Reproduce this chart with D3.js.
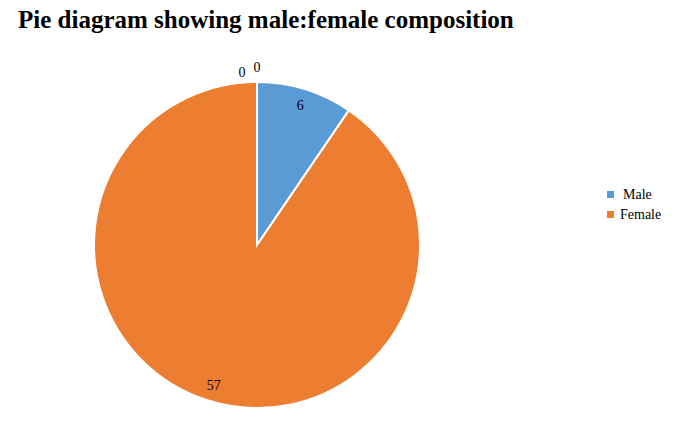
<!DOCTYPE html>
<html><head><meta charset="utf-8">
<script src="https://cdn.jsdelivr.net/npm/d3@7"></script>
<style>body{margin:0;background:#fff}</style></head>
<body><svg id="c" width="678" height="428"></svg>
<script>
const categories = ["Male", "Female", "Other A", "Other B"];
const values = [6, 57, 0, 0];
const colors = ["#5B9BD5", "#ED7D31", "#A5A5A5", "#FFC000"];
const legendItems = ["Male", "Female"];

const svg = d3.select("#c");
const font = "'Liberation Serif', 'DejaVu Serif', serif";
svg.append("text").attr("x", 18).attr("y", 28).attr("font-family", font)
  .attr("font-weight", "bold").attr("font-size", 25).attr("fill", "#000")
  .text("Pie diagram showing male:female composition");

const cx = 257, cy = 245, r = 163;
const g = svg.append("g").attr("transform", `translate(${cx},${cy})`);
const pie = d3.pie().sort(null).value(d => d)(values);
const arc = d3.arc().innerRadius(0).outerRadius(r);
g.selectAll("path").data(pie.filter(d => d.value > 0)).enter().append("path")
  .attr("d", arc).attr("fill", d => colors[d.index])
  .attr("stroke", "#fff").attr("stroke-width", 2);

const labelArc = d3.arc().innerRadius(r * 0.9).outerRadius(r * 0.9);
pie.forEach((d, i) => {
  let x, y;
  if (d.value > 0) { [x, y] = labelArc.centroid(d); y += 5; }
  else { x = i === 2 ? -15 : 0; y = i === 2 ? -168 : -173; }
  g.append("text").attr("x", x).attr("y", y).attr("text-anchor", "middle")
    .attr("font-family", font).attr("font-size", 14).attr("fill", "#000").text(d.value);
});

legendItems.forEach((name, i) => {
  const y = 194 + i * 20;
  svg.append("rect").attr("x", 607).attr("y", y - 3).attr("width", 7).attr("height", 7)
    .attr("fill", colors[categories.indexOf(name)]);
  svg.append("text").attr("x", i === 0 ? 623 : 620).attr("y", y + 5).attr("font-family", font)
    .attr("font-size", 14).attr("fill", "#000").text(name);
});
</script></body></html>
